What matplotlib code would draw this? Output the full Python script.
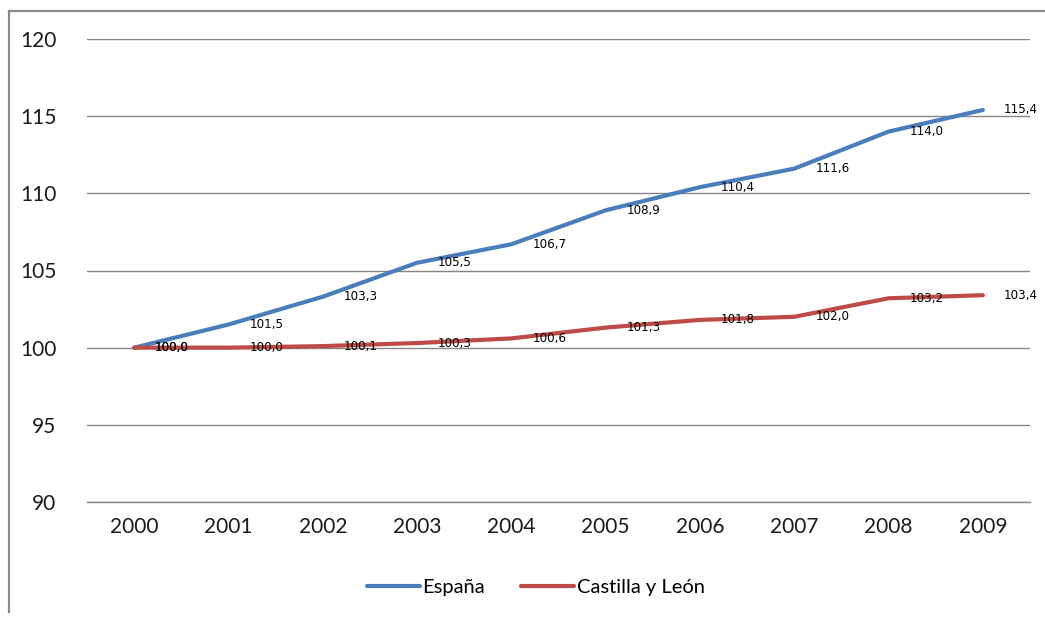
import matplotlib
matplotlib.use("Agg")
import matplotlib.pyplot as plt
from matplotlib.lines import Line2D

years = ["2000", "2001", "2002", "2003", "2004", "2005", "2006", "2007", "2008", "2009"]
espana = [100.0, 101.5, 103.3, 105.5, 106.7, 108.9, 110.4, 111.6, 114.0, 115.4]
cyl = [100.0, 100.0, 100.1, 100.3, 100.6, 101.3, 101.8, 102.0, 103.2, 103.4]
series_names = ["España", "Castilla y León"]
colors = ["#4A7EBB", "#BE4B48"]
yticks = [90, 95, 100, 105, 110, 115, 120]

plt.rcParams['font.family'] = ['Lato', 'DejaVu Sans']

fig = plt.figure(figsize=(10.45, 6.17), dpi=100)
ax = fig.add_axes([87/1045, 1-502/617, (1030-87)/1045, (502-39)/617])

x = list(range(len(years)))
for vals, col, name in zip([espana, cyl], colors, series_names):
    ax.plot(x, vals, color=col, lw=3.0, solid_joinstyle='round', solid_capstyle='round', label=name, zorder=3)
    for xi, v in zip(x, vals):
        ax.annotate(f"{v:.1f}".replace(".", ","), (xi, v), xytext=(21, 0), textcoords='offset pixels',
                    ha='left', va='center', fontsize=8.6, family='DejaVu Sans', color='black', zorder=4)

ax.set_xlim(-0.5, len(years) - 0.5)
ax.set_ylim(90, 120)
ax.set_yticks(yticks)
ax.set_yticklabels([str(t) for t in yticks])
ax.set_xticks(x)
ax.set_xticklabels(years)
ax.yaxis.grid(True, color='#868686', lw=1.0)
ax.set_axisbelow(True)
for s in ['top', 'right', 'left']:
    ax.spines[s].set_visible(False)
ax.spines['bottom'].set_color('#868686')
ax.spines['bottom'].set_linewidth(1.0)
ax.tick_params(axis='both', length=0, labelsize=15, colors='#1a1a1a')
ax.tick_params(axis='y', pad=22)
ax.tick_params(axis='x', pad=11)

handles = [Line2D([0], [0], color=c, lw=3.0, solid_capstyle='round') for c in colors]
fig.legend(handles, series_names, loc='center', bbox_to_anchor=(536/1045, 1-587/617), ncol=2,
           frameon=False, fontsize=14.5, handlelength=2.6, handletextpad=0.15, columnspacing=1.8)

# outer chart frame
fig.add_artist(Line2D([9/1045, 9/1045], [1-11/617, 1-612/617], color='#8a8a8a', lw=1.6, transform=fig.transFigure))
fig.add_artist(Line2D([9/1045, 1.0], [1-11/617, 1-11/617], color='#8a8a8a', lw=1.6, transform=fig.transFigure))

fig.savefig("out.png", dpi=100, facecolor='white')
